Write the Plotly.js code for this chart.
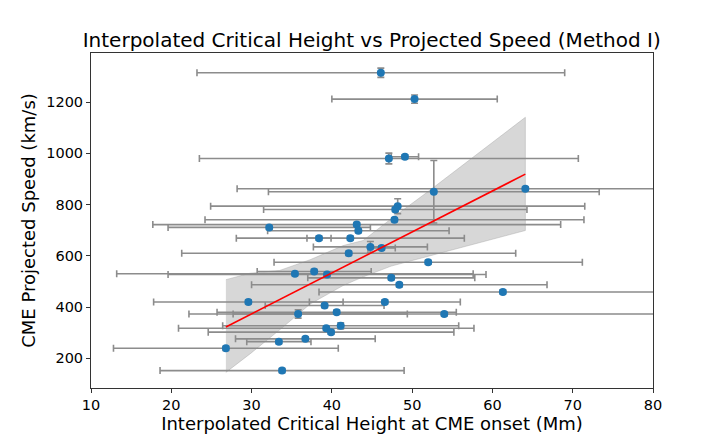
<!DOCTYPE html>
<html>
<head>
<meta charset="utf-8">
<script src="https://cdn.plot.ly/plotly-3.0.1.min.js"></script>
<style>
  html, body { margin: 0; padding: 0; background: white; }
  #graph { width: 726px; height: 436px; }
</style>
</head>
<body>
<div id="graph"></div>
<script>
// critical height at CME onset (Mm) and projected speed (km/s)
const heights = [46.1, 50.3, 47.1, 49.1, 52.7, 64.1, 48.2, 47.9, 47.8, 43.1,
                 32.2, 43.3, 38.4, 42.3, 44.8, 46.2, 42.1, 52.0, 35.4, 37.8,
                 39.4, 47.4, 48.4, 61.3, 29.6, 46.6, 39.1, 35.8, 40.6, 54.0,
                 39.3, 41.1, 39.9, 36.7, 33.4, 26.8, 33.8];
const speeds = [1315, 1212, 980, 987, 850, 862, 794, 781, 741, 722,
                711, 698, 669, 669, 635, 631, 610, 575, 530, 539,
                527, 514, 487, 459, 420, 420, 406, 373, 380, 373,
                317, 327, 302, 276, 265, 239, 152];
const heightErr = [22.9, 10.3, 23.6, 1.7, 20.6, 35.9, 23.3, 16.4, 23.6, 25.4,
                   12.6, 11.3, 1.5, 14.2, 7.1, 1.7, 20.8, 19.2, 22.2, 7.1,
                   19.8, 10.4, 18.4, 22.9, 11.8, 9.4, 7.4, 13.6, 14.9, 26.3,
                   18.4, 14.7, 15.3, 8.7, 4.0, 14.0, 15.2];
const speedErr = [18, 16, 21, 8, 122, 8, 29, 8, 8, 8,
                  8, 8, 8, 8, 21, 8, 8, 8, 8, 8,
                  8, 8, 8, 8, 8, 8, 8, 16, 8, 8,
                  8, 12, 8, 8, 8, 8, 8];

// regression line and its confidence band
const fitX = [26.8, 64.1];
const fitY = [322, 919];
const bandX = [26.8, 29.8, 33.5, 37.3, 41.4, 43.9, 47.4, 52.2, 64.1];
const bandLow = [145, 217, 311, 412, 484, 518, 560, 600, 699];
const bandHigh = [507, 532, 543, 585, 640, 660, 745, 856, 1141];

const font = 'DejaVu Sans, sans-serif';

const band = {
    x: bandX.concat(bandX.slice().reverse()),
    y: bandLow.concat(bandHigh.slice().reverse()),
    mode: 'lines',
    type: 'scatter',
    fill: 'toself',
    fillcolor: 'rgba(150,150,150,0.38)',
    line: { color: 'rgba(150,150,150,0.45)', width: 0.8 },
    hoverinfo: 'skip'
};

const points = {
    x: heights,
    y: speeds,
    mode: 'markers',
    type: 'scatter',
    marker: { color: '#1f77b4', size: 8 },
    error_x: { type: 'data', array: heightErr, visible: true, color: '#8c8c8c', thickness: 1.6, width: 3.5 },
    error_y: { type: 'data', array: speedErr, visible: true, color: '#8c8c8c', thickness: 1.6, width: 3.5 }
};

const fit = {
    x: fitX,
    y: fitY,
    mode: 'lines',
    type: 'scatter',
    line: { color: 'red', width: 1.6 }
};

const axisStyle = {
    showline: true,
    mirror: true,
    linecolor: '#333',
    linewidth: 1,
    ticks: 'outside',
    ticklen: 4,
    tickcolor: '#333',
    showgrid: false,
    zeroline: false,
    tickfont: { family: font, size: 14.5, color: 'black' }
};

const layout = {
    width: 726,
    height: 436,
    paper_bgcolor: 'white',
    plot_bgcolor: 'white',
    showlegend: false,
    margin: { l: 91, r: 73, t: 53, b: 48 },
    title: {
        text: 'Interpolated Critical Height vs Projected Speed (Method I)',
        font: { family: font, size: 20, color: 'black' },
        x: 0.512, xanchor: 'center',
        y: 0.908, yanchor: 'middle'
    },
    xaxis: Object.assign({}, axisStyle, {
        range: [10, 80],
        tickvals: [10, 20, 30, 40, 50, 60, 70, 80],
        title: { text: 'Interpolated Critical Height at CME onset (Mm)', font: { family: font, size: 18, color: 'black' }, standoff: 1 }
    }),
    yaxis: Object.assign({}, axisStyle, {
        range: [84, 1392],
        tickvals: [200, 400, 600, 800, 1000, 1200],
        title: { text: 'CME Projected Speed (km/s)', font: { family: font, size: 18, color: 'black' }, standoff: 5 }
    })
};

Plotly.newPlot('graph', [band, points, fit], layout, { displayModeBar: false, staticPlot: true });
</script>
</body>
</html>
